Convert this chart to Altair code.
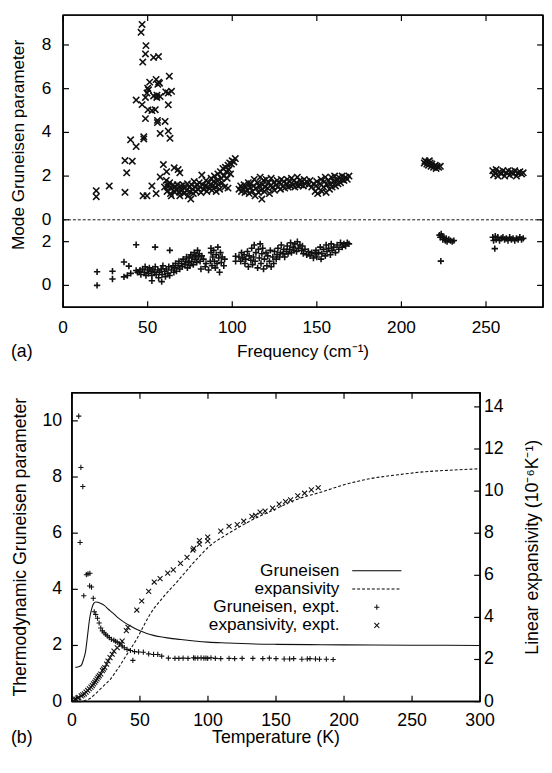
import altair as alt
import pandas as pd

FONT = "Liberation Sans"
INK = "#111111"

# ---------------- panel (a): mode Gruneisen parameters ----------------
# upper band (x markers): (frequency cm^-1, gamma)
upper_sparse = [(19.6,1.33),(19.6,1.06),(27.3,1.55),(36.6,1.26),(36.6,2.71),(37.6,2.15),(40.9,2.68),(39.9,3.66),
    (43.2,3.35),(43.2,5.48),(46.7,8.94),(46.1,8.58),(49.0,7.97),(48.7,7.59),(47.1,7.22),(53.5,7.43),(56.4,7.47),
    (62.8,6.57),(51.2,6.3),(55.0,6.42),(56.0,6.2),(57.0,6.25),(50.0,6.02),(49.6,5.8),(50.5,5.95),(56.5,6.3),
    (60.7,5.85),(62.2,5.8),(64.1,5.88),(53.5,5.67),(55.4,5.6),(57.4,5.64),(55.5,5.7),(48.7,5.6),(46.7,5.27),
    (50.2,5.03),(52.5,5.0),(54.5,5.04),(62.2,5.26),(48.7,4.63),(55.8,4.55),(55.8,4.45),(60.3,4.5),(47.7,3.8),
    (47.7,3.7),(57.4,3.95),(62.2,4.06),(63.2,3.73),(47.3,1.1),(49.6,1.1),(52.5,1.55),(55.0,1.2),(59.3,2.53),
    (57.4,1.96),(61.2,2.2),(62.2,1.6),(65.7,2.38),(68.0,2.3),(69.0,2.15),(64.0,1.1),(69.0,1.1)]
upper_c1 = [(60,1.5),(61,1.8),(61.5,1.3),(62,1.5),(63,1.7),(63.5,1.2),(64,1.45),(65,1.6),(65.5,1.3),(66,1.5),
    (67,1.35),(67.5,1.6),(68,1.45),(69,1.25),(69.5,1.55),(70,1.4),(71,1.6),(71.5,1.2),(72,1.45),(73,1.35),
    (73.5,1.65),(74,1.1),(74.5,1.5),(75,1.3),(75.5,0.95),(76,1.6),(76.5,1.4),(77,1.2),(77.5,1.75),(78,1.5),
    (78.5,1.3),(79,1.6),(80,1.4),(80.5,1.7),(81,1.5),(81.5,1.25),(82,2.05),(82.5,1.6),(83,1.4),(84,1.55),
    (84.5,1.8),(85,1.3),(85.5,1.5),(86,1.7),(86.5,1.45),(87,1.6),(87.5,1.9),(88,1.35),(88.5,1.55),(89,1.75),
    (89.5,2.0),(90,1.5),(90.5,1.3),(91,1.8),(91.5,2.1),(92,1.6),(92.5,1.4),(93,2.2),(93.5,1.9),(94,1.7),
    (94.5,2.35),(95,2.0),(95.5,1.5),(96,2.4),(96.5,2.2),(97,1.9),(97.5,2.5),(98,2.3),(98.5,2.6),(99,2.1),
    (99.5,2.55),(100,2.7),(101,2.65),(101.8,2.8),(97.5,1.45)]
upper_c2 = [(104,1.4),(105,1.55),(105.5,1.3),(106,1.45),(107,1.6),(107.5,1.25),(108,1.5),(109,1.35),(109.5,1.7),
    (110,1.2),(110.5,1.5),(111,1.65),(112,1.3),(112.5,1.55),(113,1.85),(113.5,1.1),(114,1.45),(115,1.7),
    (115.5,1.25),(116,1.55),(116.5,1.95),(117,1.35),(117.5,0.95),(118,1.6),(118.5,1.8),(119,1.3),(119.5,1.5),
    (120,1.85),(121,1.45),(121.5,1.7),(122,1.2),(122.5,1.55),(123,1.9),(124,1.5),(124.5,1.7),(125,1.35),
    (126,1.6),(126.5,1.8),(127,1.5),(128,1.7),(128.5,1.4),(129,1.85),(130,1.55),(130.5,1.75),(131,1.45),
    (132,1.65),(132.5,1.85),(133,1.5),(134,1.75),(134.5,1.55),(135,1.9),(136,1.6),(136.5,1.8),(137,1.5),
    (138,1.7),(138.5,1.95),(139,1.55),(140,1.8),(140.5,1.6),(141,1.75),(142,1.55),(142.5,1.85),(143,1.65),
    (144,1.75),(145,1.6),(146,1.8),(147,1.5),(148,1.65),(149,1.3),(149.5,1.55),(150,1.75),(150.5,1.2),
    (151,1.45),(152,1.65),(152.5,1.85),(153,1.3),(154,1.5),(154.5,1.75),(155,1.95),(155.5,1.25),(156,1.6),
    (157,1.8),(157.5,1.4),(158,1.65),(158.5,1.95),(159,1.5),(160,1.75),(160.5,2.0),(161,1.55),(162,1.8),
    (162.5,1.65),(163,1.95),(164,1.7),(164.5,1.85),(165,2.0),(166,1.8),(167,1.95),(168,1.85),(169,2.0)]
upper_c3 = [(213.5,2.6),(214,2.7),(215,2.55),(215.5,2.65),(216,2.5),(216.5,2.7),(217,2.6),(217.5,2.45),(218,2.55),
    (219,2.4),(220,2.5),(220.5,2.35),(221,2.45),(222,2.4),(223,2.45)]
upper_c4 = [(254,2.25),(254.5,2.05),(255.5,2.15),(256,2.3),(257,2.0),(258,2.2),(259,2.1),(260,2.25),(261,2.0),
    (262,2.15),(263,2.25),(264,2.05),(265,2.2),(266,2.1),(267,2.25),(268,2.0),(269,2.15),(270,2.2),(271,2.1),(272,2.15)]

# lower band (+ markers)
lower_sparse = [(20.1,0.62),(20.1,0.0),(29.2,0.65),(29.2,0.29),(36,1.07),(38.9,0.88),(36,0.39),(43.2,1.86),
    (54.4,1.75),(63.1,1.6),(38,0.45),(40,0.55),(43.2,0.68),(45,0.62),(52.5,0.21),(58.3,0.17),(223.3,1.11),
    (255.2,1.68),(87.4,1.7),(102,1.33),(102,1.1)]
lower_c1 = [(44,0.6),(45.5,0.7),(46,0.5),(47,0.75),(48,0.6),(48.5,0.85),(49,0.45),(50,0.7),(50.5,0.55),(51,0.8),
    (52,0.65),(52.5,0.45),(53,0.75),(54,0.6),(54.5,0.85),(55,0.5),(56,0.7),(56.5,0.35),(57,0.6),(58,0.75),
    (58.5,0.5),(59,0.9),(60,0.65),(60.5,0.4),(61,0.75),(62,0.55),(62.5,0.85),(63,0.45),(64,0.7),(65,0.9),(65.5,0.6)]
lower_c2 = [(66,0.8),(66.5,1.0),(67,0.65),(68,0.9),(68.5,1.1),(69,0.75),(70,1.0),(70.5,0.85),(71,1.2),(72,0.95),
    (72.5,1.1),(73,1.3),(73.5,0.8),(74,1.05),(74.5,1.25),(75,0.9),(75.5,1.4),(76,1.1),(76.5,1.3),(77,0.95),
    (77.5,1.5),(78,1.2),(78.5,1.35),(79,1.05),(79.5,1.6),(80,1.3),(80.5,1.45),(81,1.1),(81.5,0.75),(82,1.35),
    (83,1.2),(84,0.85),(84.5,1.0),(86,0.7),(87,1.1),(87.5,1.5),(88,0.9),(88.5,1.3),(89,1.6),(89.5,1.1),(90,0.8),
    (90.5,1.4),(91,1.0),(91.5,1.75),(92,1.25),(92.5,0.6),(93,1.5),(93.5,1.05),(94,1.3),(95,0.9),(95.5,1.2)]
lower_c3 = [(104,1.3),(105,1.1),(105.5,1.5),(106,1.25),(107,1.4),(107.5,1.0),(108,1.2),(109,1.55),(109.5,0.85),
    (110,1.35),(111,1.15),(111.5,1.7),(112,0.95),(112.5,1.3),(113,1.85),(113.5,1.1),(114,1.5),(115,0.8),
    (115.5,1.65),(116,1.25),(116.5,1.9),(117,1.0),(117.5,1.45),(118,1.7),(118.5,0.75),(119,1.2),(120,1.5),
    (120.5,0.9),(121,1.35),(122,1.1),(122.5,1.6),(123,0.85),(124,1.3),(124.5,1.0),(125,1.55),(126,1.2),
    (126.5,1.4),(127,1.7),(128,1.3),(128.5,1.5),(129,1.85),(130,1.45),(130.5,1.65),(131,1.3),(132,1.55),
    (132.5,1.8),(133,1.45),(134,1.65),(134.5,1.95),(135,1.5),(136,1.75),(136.5,1.6),(137,1.9),(138,1.55),
    (138.5,2.0),(139,1.7),(140,1.85),(141,1.6),(141.5,1.8),(142,1.45),(143,1.65),(144,1.4),(145,1.55),
    (146,1.35),(147,1.5),(148,1.25),(149,1.45),(149.5,1.6),(150,1.3),(151,1.5),(152,1.75),(152.5,1.2),
    (153,1.45),(154,1.65),(155,1.35),(155.5,1.85),(156,1.55),(157,1.7),(158,1.4),(158.5,1.9),(159,1.6),
    (160,1.75),(161,1.5),(162,1.85),(163,1.65),(164,1.95),(165,1.75),(166,1.9),(167,1.8),(168,1.95),(169,1.9)]
lower_c4 = [(222.5,2.3),(223,2.2),(223.5,2.35),(224,2.25),(224.5,2.1),(225,2.2),(226,2.05),(226.5,2.15),(227,2.0),
    (228,2.1),(229,2.05),(230,2.0),(231,2.05)]
lower_c5 = [(254,2.2),(254.5,2.05),(255.5,2.25),(256,2.1),(257,2.2),(258,2.05),(259,2.15),(260,2.2),(261,2.1),
    (262,2.15),(263,2.05),(264,2.2),(265,2.1),(266,2.15),(267,2.05),(268,2.15),(269,2.1),(270,2.2),(271,2.1),(272,2.15)]

freq_ticks = [0, 50, 100, 150, 200, 250]
upper_ticks = [0, 2, 4, 6, 8]
lower_ticks = [0, 2]
BAND_SHIFT = 3   # the upper band is drawn 3 units above the lower one

# ---------------- panel (b): thermodynamic Gruneisen & expansivity ----------------
T_gcalc = [2.5, 4, 5.5, 7, 8.5, 10, 11.5, 13, 14.5, 16, 17.5, 19, 21, 24, 27, 30, 34, 38, 42, 46, 50, 55, 60,
           65, 70, 80, 90, 100, 115, 130, 150, 175, 200, 250, 300]
G_calc = [1.22, 1.23, 1.25, 1.3, 1.5, 1.78, 2.36, 2.95, 3.3, 3.5, 3.55, 3.54, 3.5, 3.42, 3.28, 3.16, 2.98, 2.84,
          2.72, 2.61, 2.52, 2.43, 2.36, 2.31, 2.27, 2.21, 2.16, 2.12, 2.09, 2.06, 2.04, 2.03, 2.02, 2.01, 2.0]
T_ecalc = [5, 8, 11, 14, 17, 21, 25, 28.5, 32, 36, 40, 43, 47, 50, 54, 57, 60, 64, 68, 72, 76, 82, 88, 94, 100,
           112, 124, 136, 148, 165, 184, 200, 220, 240, 256, 280, 300]
E_calc = [0.0, 0.02, 0.08, 0.18, 0.35, 0.61, 0.85, 1.08, 1.4, 1.78, 2.2, 2.5, 2.9, 3.26, 3.75, 4.1, 4.4, 4.72,
          5.03, 5.32, 5.6, 6.05, 6.5, 6.92, 7.32, 7.87, 8.33, 8.75, 9.1, 9.6, 9.97, 10.3, 10.6, 10.78, 10.9, 11.0, 11.06]
gr_expt = [(5.0,10.17),(6.6,8.34),(8.0,7.66),(6.0,5.67),(10.6,4.52),(11.8,4.55),(13.2,4.57),(13.0,4.12),(14.4,4.08),
    (8.7,3.77),(15.7,3.68),(16.4,3.2),(17.5,3.1),(18.8,2.97),(20,2.8),(21.2,2.62),(22.4,2.52),(23.6,2.45),
    (24.8,2.4),(26,2.34),(27.5,2.28),(29,2.22),(30.8,2.19),(32,2.15),(33.3,2.12),(35,2.05),(36.9,1.98),
    (38.5,1.92),(40.5,1.86),(43,1.82),(44.8,1.47),(46,1.78),(49,1.77),(52.5,1.76),(56.4,1.7),(60,1.68),
    (63.1,1.68),(66,1.62),(70.9,1.55),(75.7,1.54),(78.6,1.54),(81.7,1.55),(85.3,1.54),(89.4,1.56),(90.5,1.55),
    (92.5,1.55),(94.9,1.56),(97,1.55),(98.5,1.55),(99.8,1.54),(102.2,1.56),(105.4,1.54),(109.4,1.53),
    (115.5,1.54),(119.6,1.53),(125.1,1.54),(133,1.54),(140.3,1.53),(145.1,1.55),(150,1.53),(156,1.52),
    (160,1.52),(163,1.53),(169,1.51),(173,1.52),(175,1.53),(179,1.52),(182,1.51),(187,1.51),(192,1.5)]
ex_expt = [(2.0,0.11),(3.0,0.12),(4.3,0.17),(5.0,0.2),(6.8,0.27),(8,0.32),(9.2,0.37),(10.4,0.45),(11.6,0.53),
    (12.8,0.61),(14.0,0.69),(15.0,0.76),(15.9,0.84),(16.8,0.92),(17.6,1.0),(18.5,1.08),(19.3,1.16),(20.2,1.23),
    (21.2,1.31),(22.4,1.47),(23.2,1.54),(24.1,1.62),(25.5,1.78),(26.5,1.93),(28.0,2.09),(29.6,2.25),(30.9,2.40),
    (33.3,2.56),(35.7,2.72),(36.9,2.87),(40,3.37),(41.2,3.53),(47.7,4.35),(51.3,4.78),(56.4,5.24),(60.5,5.68),
    (64.8,5.84),(70.4,6.1),(74.5,6.26),(79.8,6.57),(84.6,6.85),(88.9,7.2),(89.5,7.28),(93.7,7.48),(93.7,7.65),
    (99.8,7.63),(99.8,7.82),(109.4,8.1),(115.5,8.33),(121.5,8.41),(126.3,8.57),(132.3,8.8),(135,8.85),
    (138.3,9.0),(142,9.05),(147.5,9.19),(152.3,9.38),(157,9.5),(160.7,9.58),(166,9.78),(171,9.9),(176,10.06),
    (181,10.16)]
temp_ticks = [0, 50, 100, 150, 200, 250, 300]
g_ticks = [0, 2, 4, 6, 8, 10]
e_ticks = [0, 2, 4, 6, 8, 10, 12, 14]
legend_labels = ["Gruneisen", "expansivity", "Gruneisen, expt.", "expansivity, expt."]

# ---------------- build ----------------
XS = "M-1,-1L1,1M-1,1L1,-1"
PS = "M-1,0L1,0M0,-1L0,1"
TK = 6
FS_A = 17.5
FS_B = 18
FRAME_W = 1.5

up = pd.DataFrame(upper_sparse + upper_c1 + upper_c2 + upper_c3 + upper_c4, columns=["f", "g"])
lo = pd.DataFrame(lower_sparse + lower_c1 + lower_c2 + lower_c3 + lower_c4 + lower_c5, columns=["f", "Y"])
one = pd.DataFrame({"a": [0]})


def vrule(x, x2, y, y2, dash=None, width=FRAME_W):
    kw = dict(color="#000000", strokeWidth=width)
    if dash:
        kw["strokeDash"] = dash
    return alt.Chart(one).mark_rule(**kw).encode(
        x=alt.value(x), x2=alt.value(x2), y=alt.value(y), y2=alt.value(y2))


def frame(x0, x1, h):
    box = alt.Chart(one).mark_rect(fillOpacity=0, stroke="#000000", strokeWidth=FRAME_W).encode(
        x=alt.value(x0), x2=alt.value(x1), y=alt.value(0), y2=alt.value(h))
    return [box, vrule(x0, x1, 0, 0), vrule(x0, x1, h, h), vrule(x0, x0, 0, h), vrule(x1, x1, 0, h)]


def xticks(vals, scale, h):
    d = pd.DataFrame({"t": vals})
    return [alt.Chart(d).mark_rule(color="#000000", strokeWidth=1.2).encode(
                x=alt.X("t:Q", scale=scale, axis=None), y=alt.value(y0), y2=alt.value(y1))
            for (y0, y1) in [(h - TK, h), (0, TK)]]


def yticks(vals, scale, x0, x1):
    d = pd.DataFrame({"v": vals})
    return alt.Chart(d).mark_rule(color="#000000", strokeWidth=1.2).encode(
        y=alt.Y("v:Q", scale=scale, axis=None), x=alt.value(x0), x2=alt.value(x1))


def xlabels(vals, scale, y, fs):
    d = pd.DataFrame({"t": vals})
    return alt.Chart(d).mark_text(align="center", baseline="top", fontSize=fs, font=FONT, color="black").encode(
        x=alt.X("t:Q", scale=scale, axis=None), y=alt.value(y), text=alt.Text("t:Q", format="d"))


def ylabels(pos, texts, scale, x, align, fs):
    d = pd.DataFrame({"v": pos, "s": texts})
    return alt.Chart(d).mark_text(align=align, baseline="middle", fontSize=fs, font=FONT, color="black").encode(
        y=alt.Y("v:Q", scale=scale, axis=None), x=alt.value(x), text="s:N")


def label(txt, x, y, fs, angle=0, align="center", baseline="middle"):
    kw = dict(align=align, baseline=baseline, fontSize=fs, font=FONT, color="black")
    if angle:
        kw["angle"] = angle
    return alt.Chart(one).mark_text(**kw).encode(x=alt.value(x), y=alt.value(y), text=alt.value(txt))


# panel (a)
WA, HA = 488, 297
xa = alt.Scale(domain=[0, 283.7], nice=False, zero=False)
ya = alt.Scale(domain=[-1, 12.365], nice=False, zero=False)

upper_layer = alt.Chart(up).transform_calculate(Y=f"datum.g + {BAND_SHIFT}").mark_point(
    shape=XS, filled=False, size=42, strokeWidth=1.6, color=INK, opacity=1
).encode(x=alt.X("f:Q", scale=xa, axis=None), y=alt.Y("Y:Q", scale=ya, axis=None))
lower_layer = alt.Chart(lo).mark_point(
    shape=PS, filled=False, size=42, strokeWidth=1.6, color=INK, opacity=1
).encode(x=alt.X("f:Q", scale=xa, axis=None), y=alt.Y("Y:Q", scale=ya, axis=None))
zero_rule = alt.Chart(pd.DataFrame({"z": [BAND_SHIFT]})).mark_rule(
    color=INK, strokeWidth=1, strokeDash=[3, 2]).encode(y=alt.Y("z:Q", scale=ya, axis=None))

ya_pos = lower_ticks + [t + BAND_SHIFT for t in upper_ticks]
ya_txt = [str(t) for t in lower_ticks + upper_ticks]

panel_a = alt.layer(
    *frame(0, WA, HA),
    *xticks(freq_ticks, xa, HA),
    yticks(ya_pos, ya, 0, TK), yticks(ya_pos, ya, WA - TK, WA),
    upper_layer, lower_layer, zero_rule,
    xlabels(freq_ticks, xa, HA + 12, FS_A),
    ylabels(ya_pos, ya_txt, ya, -12, "right", FS_A),
    label("Frequency (cm⁻¹)", WA / 2, HA + 55, FS_A, baseline="bottom"),
    label("Mode Gruneisen parameter", -45, 132, FS_A, angle=270),
    label("(a)", -53, HA + 55, FS_B, align="left", baseline="bottom"),
).properties(width=WA, height=HA)

# panel (b)
WB, HB = 424, 314
XL = 9  # left inset of the plot frame
xb = alt.Scale(domain=[0, 300], range=[XL, WB], nice=False, zero=False)
gb = alt.Scale(domain=[0, 11], nice=False, zero=False)
eb = alt.Scale(domain=[0, 14.67], nice=False, zero=False)

gcalc = pd.DataFrame({"T": T_gcalc, "G": G_calc})
ecalc = pd.DataFrame({"T": T_ecalc, "E": E_calc})
gexp = pd.DataFrame(gr_expt, columns=["T", "G"])
eexp = pd.DataFrame(ex_expt, columns=["T", "E"])

g_line = alt.Chart(gcalc).mark_line(color=INK, strokeWidth=1.1, interpolate="monotone").encode(
    x=alt.X("T:Q", scale=xb, axis=None), y=alt.Y("G:Q", scale=gb, axis=None))
g_pts = alt.Chart(gexp).mark_point(shape=PS, filled=False, size=28, strokeWidth=1.1, color=INK, opacity=1).encode(
    x=alt.X("T:Q", scale=xb, axis=None), y=alt.Y("G:Q", scale=gb, axis=None))
e_line = alt.Chart(ecalc).mark_line(color=INK, strokeWidth=1.1, strokeDash=[3, 2], interpolate="monotone").encode(
    x=alt.X("T:Q", scale=xb, axis=None), y=alt.Y("E:Q", scale=eb, axis=None))
e_pts = alt.Chart(eexp).mark_point(shape=XS, filled=False, size=25, strokeWidth=1.1, color=INK, opacity=1).encode(
    x=alt.X("T:Q", scale=xb, axis=None), y=alt.Y("E:Q", scale=eb, axis=None))

LX_TEXT, LX0, LX1, LY0, LDY = 281, 294, 344, 181, 18.5
FS_L = 17.5
leg = []
for i, lab in enumerate(legend_labels):
    leg.append(label(lab, LX_TEXT, LY0 + i * LDY, FS_L, align="right"))
leg.append(vrule(LX0, LX1, LY0, LY0, width=1.1))
leg.append(vrule(LX0, LX1, LY0 + LDY, LY0 + LDY, dash=[3, 2], width=1.1))
leg.append(alt.Chart(one).mark_point(shape=PS, filled=False, size=28, strokeWidth=1.1, color=INK, opacity=1).encode(
    x=alt.value((LX0 + LX1) / 2), y=alt.value(LY0 + 2 * LDY)))
leg.append(alt.Chart(one).mark_point(shape=XS, filled=False, size=25, strokeWidth=1.1, color=INK, opacity=1).encode(
    x=alt.value((LX0 + LX1) / 2), y=alt.value(LY0 + 3 * LDY)))

panel_b = alt.layer(
    *frame(XL, WB, HB),
    *xticks(temp_ticks, xb, HB),
    yticks(g_ticks, gb, XL, XL + TK), yticks(e_ticks, eb, WB - TK, WB),
    g_line, g_pts, e_line, e_pts,
    *leg,
    xlabels(temp_ticks, xb, HB + 11, FS_B),
    ylabels(g_ticks, [str(v) for v in g_ticks], gb, XL - 10, "right", FS_B),
    ylabels(e_ticks, [str(v) for v in e_ticks], eb, WB + 4, "left", FS_B),
    label("Temperature (K)", (XL + WB) / 2, HB + 46, FS_B, baseline="bottom"),
    label("Thermodynamic Gruneisen parameter", -43, HB / 2, FS_B, angle=270),
    label("Linear expansivity (10⁻⁶K⁻¹)", 478, HB / 2, FS_B, angle=270),
    label("(b)", -53, HB + 46, FS_B, align="left", baseline="bottom"),
).resolve_scale(y="independent").properties(width=WB, height=HB)

chart = alt.vconcat(panel_a, panel_b, spacing=31).properties(
    padding={"left": 1, "top": 0, "right": 0, "bottom": 0}
).configure_view(strokeWidth=0)

chart.save("out.html", embed_options={"renderer": "svg", "actions": False})
